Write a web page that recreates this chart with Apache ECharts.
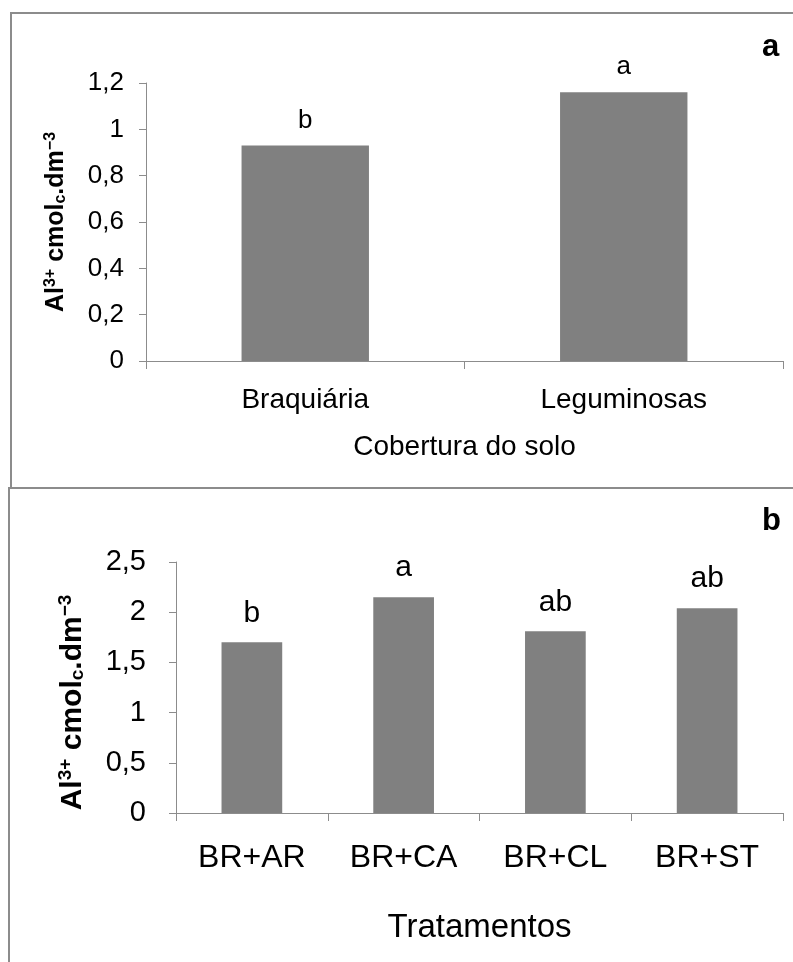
<!DOCTYPE html>
<html>
<head>
<meta charset="utf-8">
<script src="https://cdn.jsdelivr.net/npm/echarts@6/dist/echarts.min.js"></script>
<style>
  html, body { margin: 0; padding: 0; background: #fff; }
  #chart { width: 793px; height: 962px; }
</style>
</head>
<body>
<div id="chart"></div>
<script>
// painel a - cobertura do solo
const categoriesA = ['Braquiária', 'Leguminosas'];
const valuesA = [0.93, 1.16];
const lettersA = ['b', 'a'];

// painel b - tratamentos
const categoriesB = ['BR+AR', 'BR+CA', 'BR+CL', 'BR+ST'];
const valuesB = [1.70, 2.15, 1.81, 2.04];
const lettersB = ['b', 'a', 'ab', 'ab'];

const FONT = '"Liberation Sans", Arial, sans-serif';
const AXIS_COLOR = '#8c8c8c';
const BAR_COLOR = '#808080';

// decimal com virgula
const fmtComma = v => String(v).replace('.', ',');

// rotulo do eixo y com sobrescrito / subscrito
function yName(size, shift) {
  const sub = Math.round(size * 0.62);
  return {
    text: '{n|Al}{sup|3+}{n| cmol}{sub|c}{n|.dm}{sup|−3}',
    rich: {
      n: {fontSize: size, fontWeight: 'bold', fontFamily: FONT, color: '#000'},
      sup: {fontSize: sub, fontWeight: 'bold', fontFamily: FONT, color: '#000', padding: [0, 0, Math.round(size * 0.45), 0]},
      sub: {fontSize: sub, fontWeight: 'bold', fontFamily: FONT, color: '#000', padding: [Math.round(size * 0.35), 0, 0, 0]}
    },
    // desloca o texto rotacionado para baixo
    padding: shift ? [0, shift, 0, 0] : 0
  };
}

function xAxisOf(idx, data, labelSize, labelMargin, name, nameSize, nameGap) {
  return {
    type: 'category',
    gridIndex: idx,
    data: data,
    axisLine: {lineStyle: {color: AXIS_COLOR, width: 1}},
    axisTick: {show: true, length: 8, lineStyle: {color: AXIS_COLOR}},
    axisLabel: {color: '#000', fontSize: labelSize, fontFamily: FONT, margin: labelMargin},
    name: name,
    nameLocation: 'middle',
    nameGap: nameGap,
    nameTextStyle: {color: '#000', fontSize: nameSize, fontFamily: FONT}
  };
}

function yAxisOf(idx, max, interval, labelSize, labelMargin, nameSize, nameGap, shift) {
  const nm = yName(nameSize, shift);
  return {
    type: 'value',
    gridIndex: idx,
    min: 0,
    max: max,
    interval: interval,
    splitLine: {show: false},
    axisLine: {show: true, lineStyle: {color: AXIS_COLOR, width: 1}},
    axisTick: {show: true, length: 7, lineStyle: {color: AXIS_COLOR}},
    axisLabel: {color: '#000', fontSize: labelSize, fontFamily: FONT, margin: labelMargin, formatter: fmtComma},
    name: nm.text,
    nameLocation: 'middle',
    nameGap: nameGap,
    nameRotate: 90,
    nameTextStyle: {rich: nm.rich, padding: nm.padding}
  };
}

function barSeries(idx, values, letters, labelSize, dist) {
  return {
    type: 'bar',
    xAxisIndex: idx,
    yAxisIndex: idx,
    barWidth: '40%',
    itemStyle: {color: BAR_COLOR},
    label: {
      show: true,
      position: 'top',
      distance: dist,
      color: '#000',
      fontSize: labelSize,
      fontFamily: FONT,
      formatter: p => letters[p.dataIndex]
    },
    data: values
  };
}

const chart = echarts.init(document.getElementById('chart'), null, {renderer: 'canvas'});

const option = {
  backgroundColor: '#fff',
  animation: false,
  grid: [
    {left: 146, top: 83, width: 637, height: 278},
    {left: 176, top: 562, width: 607, height: 251}
  ],
  xAxis: [
    xAxisOf(0, categoriesA, 28, 25, 'Cobertura do solo', 28, 72),
    xAxisOf(1, categoriesB, 32, 29, 'Tratamentos', 33, 98)
  ],
  yAxis: [
    yAxisOf(0, 1.2, 0.2, 26, 22, 25, 76, 0),
    yAxisOf(1, 2.5, 0.5, 29, 30, 30, 87, 30)
  ],
  series: [
    barSeries(0, valuesA, lettersA, 26, 12),
    barSeries(1, valuesB, lettersB, 30, 14)
  ],
  graphic: [
    // molduras dos paineis
    {type: 'rect', shape: {x: 11, y: 13, width: 800, height: 475}, style: {fill: 'none', stroke: AXIS_COLOR, lineWidth: 2}},
    {type: 'rect', shape: {x: 9, y: 488, width: 800, height: 500}, style: {fill: 'none', stroke: AXIS_COLOR, lineWidth: 2}},
    // letras dos paineis
    {type: 'text', left: 762, top: 32, style: {text: 'a', fontSize: 31, fontWeight: 'bold', fontFamily: FONT, fill: '#000'}},
    {type: 'text', left: 762, top: 506, style: {text: 'b', fontSize: 31, fontWeight: 'bold', fontFamily: FONT, fill: '#000'}}
  ]
};

chart.setOption(option);
</script>
</body>
</html>
